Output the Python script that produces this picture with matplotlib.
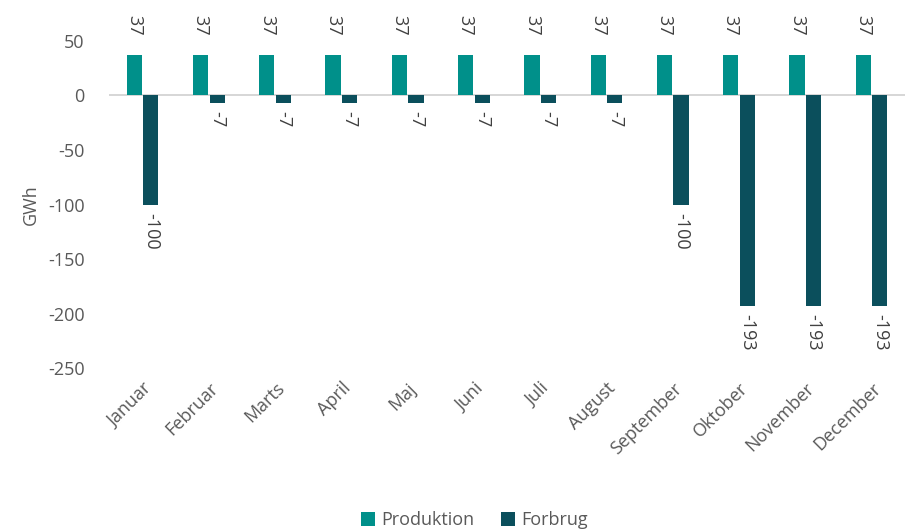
import numpy as np
import matplotlib.pyplot as plt

months = ['Januar', 'Februar', 'Marts', 'April', 'Maj', 'Juni', 'Juli',
          'August', 'September', 'Oktober', 'November', 'December']
produktion = [37, 37, 37, 37, 37, 37, 37, 37, 37, 37, 37, 37]
forbrug = [-100, -7, -7, -7, -7, -7, -7, -7, -100, -193, -193, -193]

plt.rcParams['font.family'] = ['Open Sans', 'DejaVu Sans']
plt.rcParams['axes.unicode_minus'] = False
grey = '#595959'
c_prod = '#00908A'
c_forb = '#0B4F5C'

fig = plt.figure(figsize=(9.12, 5.32), dpi=100)
ax = fig.add_axes([0.12, 0.308, 0.872, 0.615])

x = np.arange(len(months))
w = 0.23
b1 = ax.bar(x - w / 2 - 0.01, produktion, w, color=c_prod, label='Produktion')
b2 = ax.bar(x + w / 2 + 0.01, forbrug, w, color=c_forb, label='Forbrug')

for xi, v in zip(x - w / 2 - 0.01, produktion):
    ax.annotate(str(v), (xi, v), xytext=(0, 14), textcoords='offset points',
                rotation=-90, ha='center', va='bottom', fontsize=13,
                color='#404040', annotation_clip=False)
for xi, v in zip(x + w / 2 + 0.01, forbrug):
    ax.annotate(str(v), (xi, v), xytext=(0, -6), textcoords='offset points',
                rotation=-90, ha='center', va='top', fontsize=13,
                color='#404040', annotation_clip=False)

ax.set_xlim(-0.5, len(months) - 0.5)
ax.set_ylim(-250, 50)
ax.set_yticks([50, 0, -50, -100, -150, -200, -250])
ax.axhline(0, color='#d0d0d0', lw=1.2, zorder=0)
for s in ax.spines.values():
    s.set_visible(False)
ax.tick_params(length=0, colors=grey, labelsize=13)
ax.set_xticks(x)
ax.set_xticklabels(months, rotation=45, ha='right', rotation_mode='anchor')
ax.tick_params(axis='x', pad=8)
ax.tick_params(axis='y', pad=18)
ax.set_ylabel('GWh', color=grey, fontsize=13, labelpad=6)

fig.legend(handles=[b1, b2], loc='lower center', ncol=2, frameon=False,
           fontsize=13, labelcolor=grey, handlelength=0.8, handleheight=0.8,
           handletextpad=0.3, columnspacing=1.5, bbox_to_anchor=(0.52, -0.025))

fig.savefig('out.png', dpi=100)
